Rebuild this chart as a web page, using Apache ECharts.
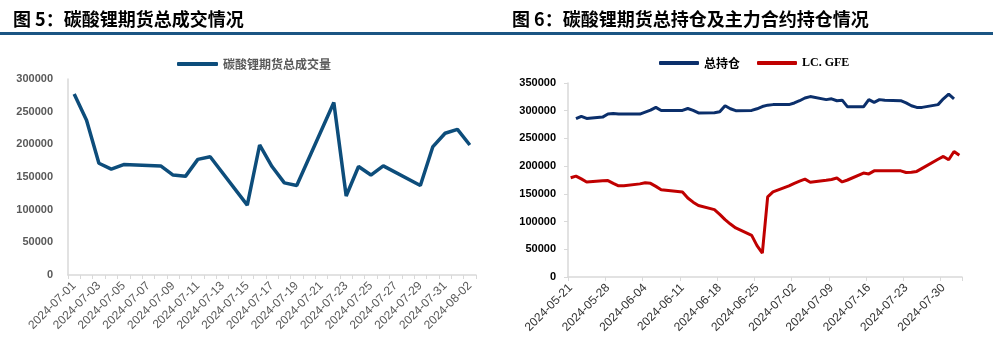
<!DOCTYPE html>
<html><head><meta charset="utf-8">
<script src="https://cdn.jsdelivr.net/npm/echarts@6/dist/echarts.min.js"></script>
<style>html,body{margin:0;padding:0;background:#fff}#c{width:993px;height:350px}</style>
</head><body><div id="c"></div>
<script>
// ---- Figure 5: daily total volume (calendar days, null = non-trading day)
const volDates = ['2024-07-01','2024-07-02','2024-07-03','2024-07-04','2024-07-05','2024-07-06','2024-07-07',
  '2024-07-08','2024-07-09','2024-07-10','2024-07-11','2024-07-12','2024-07-13','2024-07-14',
  '2024-07-15','2024-07-16','2024-07-17','2024-07-18','2024-07-19','2024-07-20','2024-07-21',
  '2024-07-22','2024-07-23','2024-07-24','2024-07-25','2024-07-26','2024-07-27','2024-07-28',
  '2024-07-29','2024-07-30','2024-07-31','2024-08-01','2024-08-02'];
const volValues = [277000,237000,171000,162000,169000,null,null,
  167000,153000,151000,177000,181000,null,null,
  107000,199000,166000,141000,137000,null,null,
  264000,121000,166000,153000,167000,null,null,
  137000,196000,217000,223000,199000];

// ---- Figure 6: open interest (calendar days, null = no value)
const oiDates = ['2024-05-21','2024-05-22','2024-05-23','2024-05-24','2024-05-25','2024-05-26','2024-05-27','2024-05-28','2024-05-29','2024-05-30','2024-05-31',
  '2024-06-01','2024-06-02','2024-06-03','2024-06-04','2024-06-05','2024-06-06','2024-06-07','2024-06-08','2024-06-09','2024-06-10',
  '2024-06-11','2024-06-12','2024-06-13','2024-06-14','2024-06-15','2024-06-16','2024-06-17','2024-06-18','2024-06-19','2024-06-20',
  '2024-06-21','2024-06-22','2024-06-23','2024-06-24','2024-06-25','2024-06-26','2024-06-27','2024-06-28','2024-06-29','2024-06-30',
  '2024-07-01','2024-07-02','2024-07-03','2024-07-04','2024-07-05','2024-07-06','2024-07-07','2024-07-08','2024-07-09','2024-07-10',
  '2024-07-11','2024-07-12','2024-07-13','2024-07-14','2024-07-15','2024-07-16','2024-07-17','2024-07-18','2024-07-19','2024-07-20',
  '2024-07-21','2024-07-22','2024-07-23','2024-07-24','2024-07-25','2024-07-26','2024-07-27','2024-07-28','2024-07-29','2024-07-30',
  '2024-07-31','2024-08-01','2024-08-02'];
const totalOI = [null,285600,289800,286000,null,null,288500,294000,295000,294000,294000,
  null,null,294000,297500,301000,306000,300500,null,null,null,
  300500,304000,300500,296000,null,null,296500,298000,309000,303500,
  300000,null,null,300500,303500,307500,310000,311000,null,null,
  311000,314000,318000,323000,325500,null,null,320000,321500,318000,
  319000,307000,null,null,307000,320000,315000,320000,319000,null,
  null,318000,314000,309000,306000,306000,null,null,311000,321500,
  330000,321500,null];
const mainOI = [179000,182000,177000,171500,null,null,173500,174000,169000,164500,164500,
  null,null,168000,170000,169000,163500,157500,null,null,null,
  153500,142500,135000,129000,null,null,121500,113000,103500,95500,
  88500,null,null,75000,56500,43000,144500,153500,null,null,
  164500,169000,173000,176500,171000,null,null,174500,176000,178500,
  171500,175000,null,null,187500,186000,191500,191500,191500,null,
  null,191500,188500,189000,190500,196000,null,null,212500,217500,
  211500,226500,219500];

const titles = ['图 5：碳酸锂期货总成交情况', '图 6：碳酸锂期货总持仓及主力合约持仓情况'];
const seriesNames = ['碳酸锂期货总成交量', '总持仓', 'LC. GFE'];

const cjk = '"Noto Sans CJK SC", "Liberation Sans", sans-serif';
const sans = '"Liberation Sans", Arial, sans-serif';
const grey = '#595959';
const axisGrey = '#d9d9d9';
const plain = v => String(v);

const chart = echarts.init(document.getElementById('c'));
chart.setOption({
  animation: false,
  backgroundColor: '#fff',
  title: [
    {text: titles[0], left: 13, top: 10, padding: 0,
     textStyle: {fontSize: 18, fontWeight: 'bold', color: '#000', fontFamily: cjk}},
    {text: titles[1], left: 512, top: 10, padding: 0,
     textStyle: {fontSize: 18, fontWeight: 'bold', color: '#000', fontFamily: cjk}}
  ],
  graphic: [{type: 'rect', shape: {x: 0, y: 32, width: 993, height: 3}, style: {fill: '#1b5583'}}],
  legend: [
    {data: [seriesNames[0]], left: 177, top: 58, padding: 0, icon: 'roundRect', itemWidth: 41, itemHeight: 4,
     textStyle: {fontSize: 12, fontWeight: 'bold', color: grey, fontFamily: cjk}},
    {data: [{name: seriesNames[1]}, {name: seriesNames[2], textStyle: {fontFamily: '"Liberation Serif", serif'}}],
     left: 659, top: 57, padding: 0, itemGap: 17, icon: 'roundRect', itemWidth: 40, itemHeight: 4,
     textStyle: {fontSize: 12, fontWeight: 'bold', color: '#000', fontFamily: cjk}}
  ],
  grid: [
    {left: 68, top: 79, width: 408, height: 196},
    {left: 568, top: 83, width: 394, height: 194}
  ],
  xAxis: [
    {type: 'category', gridIndex: 0, data: volDates, boundaryGap: true,
     axisLine: {lineStyle: {color: axisGrey, width: 1.5}},
     axisTick: {show: true, interval: 0, length: 4, lineStyle: {color: axisGrey}},
     axisLabel: {interval: 1, rotate: 45, fontSize: 12, color: grey, margin: 9, fontFamily: sans}},
    {type: 'category', gridIndex: 1, data: oiDates, boundaryGap: true,
     axisLine: {lineStyle: {color: axisGrey, width: 1.5}},
     axisTick: {show: true, interval: 6, length: 4, lineStyle: {color: axisGrey}},
     axisLabel: {interval: 6, rotate: 45, fontSize: 12, color: '#333', margin: 9, fontFamily: sans}}
  ],
  yAxis: [
    {type: 'value', gridIndex: 0, min: 0, max: 300000, interval: 50000,
     splitLine: {show: false},
     axisLine: {show: true, lineStyle: {color: axisGrey, width: 1.5}},
     axisTick: {show: false},
     axisLabel: {formatter: plain, color: grey, fontSize: 11, fontWeight: 'bold', margin: 15, fontFamily: sans}},
    {type: 'value', gridIndex: 1, min: 0, max: 350000, interval: 50000,
     splitLine: {show: false},
     axisLine: {show: true, lineStyle: {color: axisGrey, width: 1.5}},
     axisTick: {show: true, length: 4, lineStyle: {color: axisGrey}},
     axisLabel: {formatter: plain, color: '#000', fontSize: 11, fontWeight: 'bold', margin: 12, fontFamily: sans}}
  ],
  series: [
    {name: seriesNames[0], type: 'line', xAxisIndex: 0, yAxisIndex: 0, data: volValues,
     connectNulls: true, showSymbol: false, symbol: 'none',
     lineStyle: {width: 3.5, color: '#0d4d7b'}, itemStyle: {color: '#0d4d7b'}},
    {name: seriesNames[1], type: 'line', xAxisIndex: 1, yAxisIndex: 1, data: totalOI,
     connectNulls: true, showSymbol: false, symbol: 'none',
     lineStyle: {width: 3, color: '#0b2f6b'}, itemStyle: {color: '#0b2f6b'}},
    {name: seriesNames[2], type: 'line', xAxisIndex: 1, yAxisIndex: 1, data: mainOI,
     connectNulls: true, showSymbol: false, symbol: 'none',
     lineStyle: {width: 3, color: '#c00000'}, itemStyle: {color: '#c00000'}}
  ]
});
</script></body></html>
